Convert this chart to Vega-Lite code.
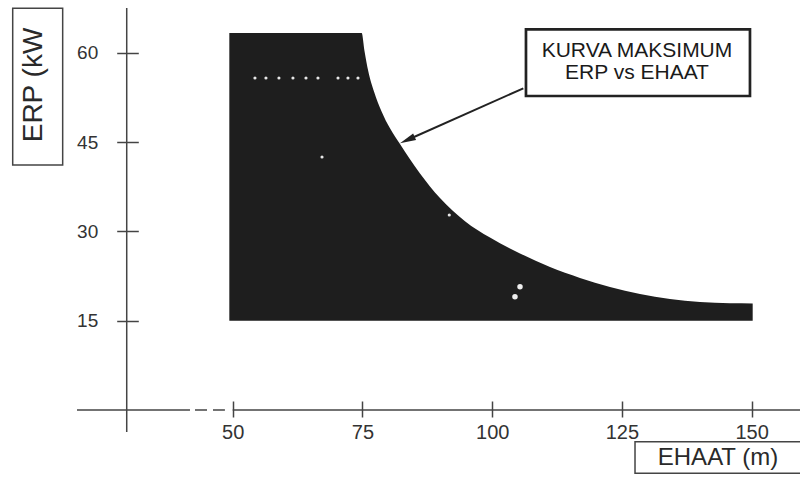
{
  "$schema": "https://vega.github.io/schema/vega-lite/v6.json",
  "width": 800,
  "height": 478,
  "autosize": {"type": "none"},
  "padding": 0,
  "background": "white",
  "config": {
    "view": {"stroke": null},
    "axis": {"grid": false, "domain": false, "title": null, "labelFont": "Liberation Sans", "labelColor": "#333333", "tickColor": "#444444", "tickWidth": 1.5}
  },
  "encoding": {
    "x": {"field": "ehaat", "type": "quantitative", "scale": {"domain": [5.163, 159.31], "nice": false, "zero": false},
      "axis": {"values": [50, 75, 100, 125, 150], "orient": "bottom", "offset": -77, "tickSize": 16, "labelPadding": 5, "labelFontSize": 20}},
    "y": {"field": "erp", "type": "quantitative", "scale": {"domain": [-11.42, 68.85], "nice": false, "zero": false},
      "axis": {"values": [15, 30, 45, 60], "orient": "left", "offset": -138.3, "tickSize": 21.6, "labelPadding": 19, "labelFontSize": 19}}
  },
  "layer": [
    {
      "data": {"values": [
        {"ehaat": 49.35, "erp": 63.31}, {"ehaat": 74.855, "erp": 63.31}, {"ehaat": 75.395, "erp": 60.3},
        {"ehaat": 76.127, "erp": 56.9}, {"ehaat": 77.225, "erp": 53.5}, {"ehaat": 78.709, "erp": 50.1},
        {"ehaat": 80.308, "erp": 47.3}, {"ehaat": 82.235, "erp": 44.67}, {"ehaat": 86.089, "erp": 39.72},
        {"ehaat": 89.942, "erp": 35.6}, {"ehaat": 94.759, "erp": 31.7}, {"ehaat": 99.576, "erp": 28.95},
        {"ehaat": 105.356, "erp": 26.3}, {"ehaat": 111.137, "erp": 24.0}, {"ehaat": 116.917, "erp": 22.17},
        {"ehaat": 122.697, "erp": 20.66}, {"ehaat": 128.478, "erp": 19.48}, {"ehaat": 134.258, "erp": 18.64},
        {"ehaat": 140.039, "erp": 18.12}, {"ehaat": 145.819, "erp": 17.92}, {"ehaat": 150.193, "erp": 17.89}
      ]},
      "mark": {"type": "area", "color": "#1e1e1e", "interpolate": "monotone"},
      "encoding": {"y2": {"datum": 15}}
    },
    {
      "data": {"values": [
        {"ehaat": 54.29, "erp": 55.75}, {"ehaat": 56.41, "erp": 55.75}, {"ehaat": 58.91, "erp": 55.75},
        {"ehaat": 61.61, "erp": 55.75}, {"ehaat": 64.12, "erp": 55.75}, {"ehaat": 66.43, "erp": 55.75},
        {"ehaat": 70.29, "erp": 55.75}, {"ehaat": 72.21, "erp": 55.75}, {"ehaat": 74.14, "erp": 55.75},
        {"ehaat": 67.21, "erp": 42.49}, {"ehaat": 91.73, "erp": 32.75}
      ]},
      "mark": {"type": "point", "filled": true, "color": "#e8e8e8", "size": 10, "opacity": 1}
    },
    {
      "data": {"values": [
        {"ehaat": 105.36, "erp": 20.71}, {"ehaat": 104.39, "erp": 19.03}
      ]},
      "mark": {"type": "point", "filled": true, "color": "#eeeeee", "size": 30, "opacity": 1}
    },
    {
      "data": {"values": [
        {"ehaat": 20.0, "ehaat2": 41.77, "erp": 0}, {"ehaat": 42.73, "ehaat2": 45.05, "erp": 0},
        {"ehaat": 46.2, "ehaat2": 48.5, "erp": 0}, {"ehaat": 50.0, "ehaat2": 160, "erp": 0}
      ]},
      "mark": {"type": "rule", "color": "#444444", "strokeWidth": 1.5},
      "encoding": {"x2": {"field": "ehaat2"}}
    },
    {
      "data": {"values": [{"ehaat": 29.58, "erp": -3.7, "erp2": 67.5}]},
      "mark": {"type": "rule", "color": "#444444", "strokeWidth": 1.5},
      "encoding": {"y2": {"field": "erp2"}}
    },
    {
      "data": {"values": [
        {"ehaat": 7.61, "ehaat2": 17.24, "erp": 67.46, "erp2": 41.14},
        {"ehaat": 127.52, "ehaat2": 162, "erp": -5.32, "erp2": -10.63}
      ]},
      "mark": {"type": "rect", "fill": "white", "stroke": "#444444", "strokeWidth": 1.5},
      "encoding": {"x2": {"field": "ehaat2"}, "y2": {"field": "erp2"}}
    },
    {
      "data": {"values": [{"ehaat": 106.51, "ehaat2": 149.67, "erp": 63.93, "erp2": 52.73}]},
      "mark": {"type": "rect", "fill": "white", "stroke": "#222222", "strokeWidth": 2.7},
      "encoding": {"x2": {"field": "ehaat2"}, "y2": {"field": "erp2"}}
    },
    {
      "data": {"values": [{"ehaat": 11.71, "erp": 54.58, "label": "ERP (kW"}]},
      "mark": {"type": "text", "angle": 270, "align": "center", "baseline": "middle", "font": "Liberation Sans", "fontSize": 28, "color": "#2a2a2a"},
      "encoding": {"text": {"field": "label"}}
    },
    {
      "data": {"values": [{"ehaat": 143.51, "erp": -8.06, "label": "EHAAT (m)"}]},
      "mark": {"type": "text", "align": "center", "baseline": "middle", "font": "Liberation Sans", "fontSize": 24, "color": "#2a2a2a"},
      "encoding": {"text": {"field": "label"}}
    },
    {
      "data": {"values": [
        {"ehaat": 127.9, "erp": 60.29, "label": "KURVA MAKSIMUM"},
        {"ehaat": 127.9, "erp": 56.54, "label": "ERP vs EHAAT"}
      ]},
      "mark": {"type": "text", "align": "center", "baseline": "middle", "font": "Liberation Sans", "fontSize": 21, "color": "#1a1a1a"},
      "encoding": {"text": {"field": "label"}}
    },
    {
      "data": {"values": [{"ehaat": 106.0, "erp": 54.02, "ehaat2": 83.64, "erp2": 45.34}]},
      "mark": {"type": "rule", "color": "#222222", "strokeWidth": 2},
      "encoding": {"x2": {"field": "ehaat2"}, "y2": {"field": "erp2"}}
    },
    {
      "data": {"values": [{"ehaat": 83.64, "erp": 45.34}]},
      "mark": {"type": "point", "filled": true, "color": "#222222", "opacity": 1, "size": 256, "angle": 246, "shape": "M0,-1L0.45,1L-0.45,1Z"}
    }
  ]
}
